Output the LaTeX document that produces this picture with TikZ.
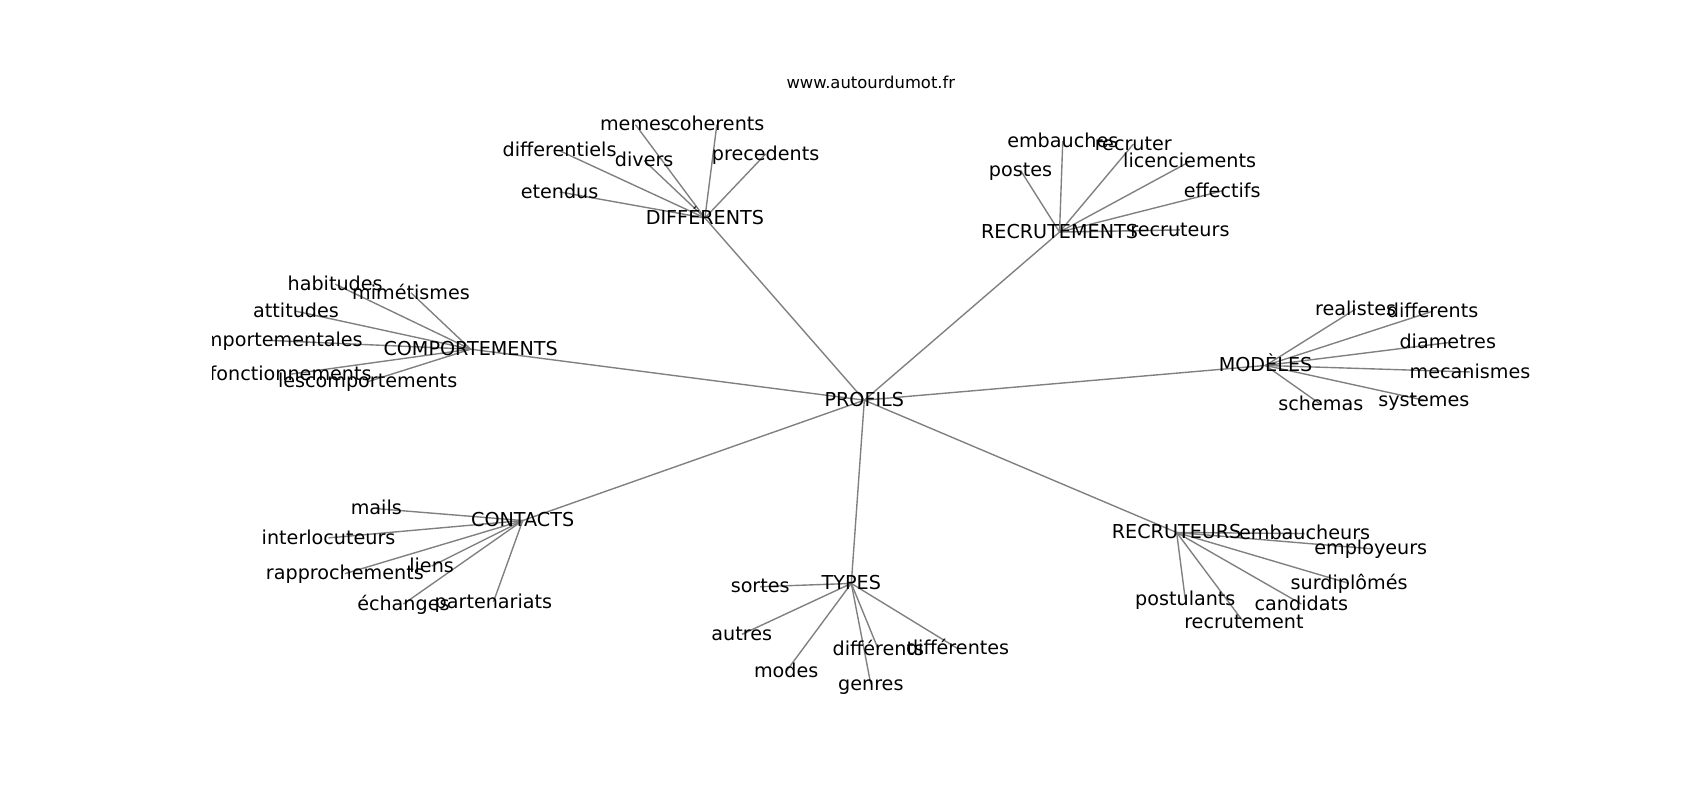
\documentclass[tikz,border=0pt]{standalone}
\usepackage{fontspec}
\setmainfont{DejaVu Sans}
\usetikzlibrary{backgrounds}
\begin{document}
\begin{tikzpicture}[x=0.7808pt,y=-0.7808pt,
  lbl/.style={font=\fontsize{13.8}{16}\selectfont, inner sep=0pt, text height=1.1em, text depth=0.208em, anchor=center},
  ttl/.style={font=\fontsize{11.8}{14}\selectfont, inner sep=0pt, anchor=center},
  edge/.style={draw=gray, line width=1pt}]
\useasboundingbox (0,0) rectangle (1567.6,737.7);
\node[ttl] (title) at (803,76) {www.autourdumot.fr};
\begin{scope}
\clip (196,88.5) rectangle (1410.8,656.5);
% hubs
\node[lbl] (p)  at (797,369) {PROFILS};
\node[lbl] (d)  at (650,201) {DIFFÉRENTS};
\node[lbl] (rm) at (977,214) {RECRUTEMENTS};
\node[lbl] (c)  at (434,322) {COMPORTEMENTS};
\node[lbl] (m)  at (1167,337) {MODÈLES};
\node[lbl] (ct) at (482,480) {CONTACTS};
\node[lbl] (t)  at (785,538) {TYPES};
\node[lbl] (rr) at (1085,491) {RECRUTEURS};
% DIFFERENTS
\node[lbl] (d1) at (586,115) {memes};
\node[lbl] (d2) at (661,115) {coherents};
\node[lbl] (d3) at (516,139) {differentiels};
\node[lbl] (d4) at (594,148) {divers};
\node[lbl] (d5) at (706,142) {precedents};
\node[lbl] (d6) at (516,177) {etendus};
% RECRUTEMENTS
\node[lbl] (r1) at (980,130) {embauches};
\node[lbl] (r2) at (1045,133) {recruter};
\node[lbl] (r3) at (941,157) {postes};
\node[lbl] (r4) at (1097,149) {licenciements};
\node[lbl] (r5) at (1127,176) {effectifs};
\node[lbl] (r6) at (1088,212) {recruteurs};
% COMPORTEMENTS
\node[lbl] (c1) at (309,262) {habitudes};
\node[lbl] (c2) at (379,270) {mimétismes};
\node[lbl] (c3) at (273,287) {attitudes};
\node[lbl] (c4) at (251,314) {comportementales};
\node[lbl] (c5) at (268,345) {fonctionnements};
\node[lbl] (c6) at (339,352) {lescomportements};
% MODELES
\node[lbl] (m1) at (1250,285) {realistes};
\node[lbl] (m2) at (1321,287) {differents};
\node[lbl] (m3) at (1335,316) {diametres};
\node[lbl] (m4) at (1355.5,343) {mecanismes};
\node[lbl] (m5) at (1313,369) {systemes};
\node[lbl] (m6) at (1218,373) {schemas};
% CONTACTS
\node[lbl] (k1) at (347,469) {mails};
\node[lbl] (k2) at (303,496) {interlocuteurs};
\node[lbl] (k3) at (318,529) {rapprochements};
\node[lbl] (k4) at (398,522) {liens};
\node[lbl] (k5) at (372,557) {échanges};
\node[lbl] (k6) at (455,555) {partenariats};
% TYPES
\node[lbl] (t1) at (701,541) {sortes};
\node[lbl] (t2) at (684,585) {autres};
\node[lbl] (t3) at (725,619) {modes};
\node[lbl] (t4) at (810,599) {différents};
\node[lbl] (t5) at (883,598) {différentes};
\node[lbl] (t6) at (803,631) {genres};
% RECRUTEURS
\node[lbl] (u1) at (1203,492) {embaucheurs};
\node[lbl] (u2) at (1264,506) {employeurs};
\node[lbl] (u3) at (1244,538) {surdiplômés};
\node[lbl] (u4) at (1093,553) {postulants};
\node[lbl] (u5) at (1200,557) {candidats};
\node[lbl] (u6) at (1147,574) {recrutement};
\end{scope}
\begin{pgfonlayer}{background}
\begin{scope}
\clip (196,88.5) rectangle (1410.8,656.5);
\foreach \a/\b in {p/d,p/rm,p/c,p/m,p/ct,p/t,p/rr,
  d/d1,d/d2,d/d3,d/d4,d/d5,d/d6,
  rm/r1,rm/r2,rm/r3,rm/r4,rm/r5,rm/r6,
  c/c1,c/c2,c/c3,c/c4,c/c5,c/c6,
  m/m1,m/m2,m/m3,m/m4,m/m5,m/m6,
  ct/k1,ct/k2,ct/k3,ct/k4,ct/k5,ct/k6,
  t/t1,t/t2,t/t3,t/t4,t/t5,t/t6,
  rr/u1,rr/u2,rr/u3,rr/u4,rr/u5,rr/u6}
  \draw[edge] (\a.center) -- (\b.center);
\end{scope}
\end{pgfonlayer}
\end{tikzpicture}
\end{document}
